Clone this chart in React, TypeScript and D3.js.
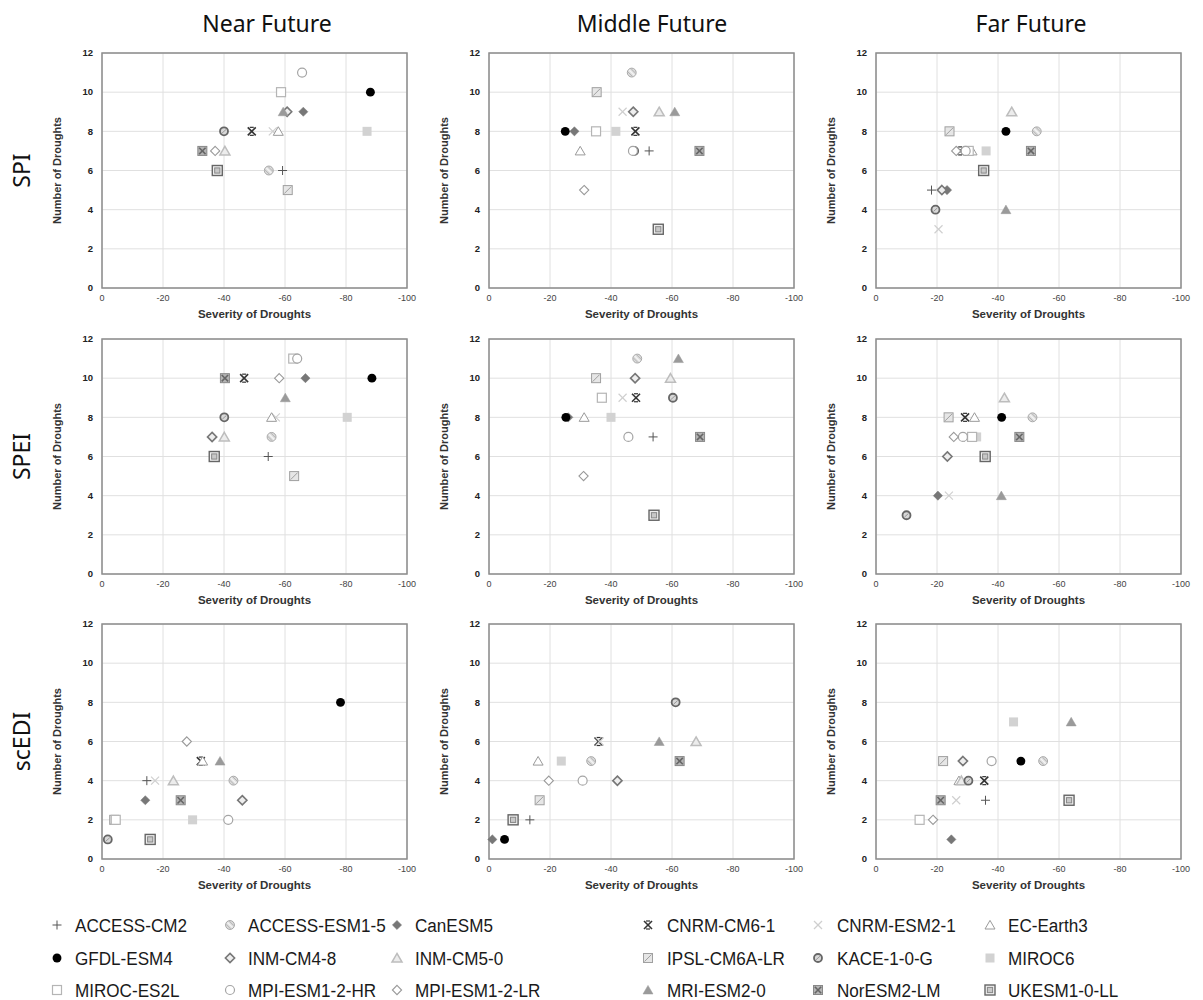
import React from 'react';
import * as d3 from 'd3';

// models in legend order (row-major, 6 per row)
const models = [
  'ACCESS-CM2', 'ACCESS-ESM1-5', 'CanESM5', 'CNRM-CM6-1', 'CNRM-ESM2-1', 'EC-Earth3',
  'GFDL-ESM4', 'INM-CM4-8', 'INM-CM5-0', 'IPSL-CM6A-LR', 'KACE-1-0-G', 'MIROC6',
  'MIROC-ES2L', 'MPI-ESM1-2-HR', 'MPI-ESM1-2-LR', 'MRI-ESM2-0', 'NorESM2-LM', 'UKESM1-0-LL',
];
const indexNames = ['SPI', 'SPEI', 'scEDI'];
const periods = ['Near Future', 'Middle Future', 'Far Future'];
const xTicks = [0, -20, -40, -60, -80, -100];
const yTicks = [0, 2, 4, 6, 8, 10, 12];

// [severity, number of droughts] per model, same order as `models`
const spiNear: [number, number][] = [
  [-59.2, 6], [-54.7, 6], [-66, 9], [-49.1, 8], [-56, 8], [-57.8, 8],
  [-88, 10], [-60.7, 9], [-40.3, 7], [-60.9, 5], [-40, 8], [-86.9, 8],
  [-58.7, 10], [-65.6, 11], [-37.1, 7], [-59.4, 9], [-32.9, 7], [-37.8, 6],
];
const spiMiddle: [number, number][] = [
  [-52.5, 7], [-46.8, 11], [-28, 8], [-48, 8], [-43.8, 9], [-29.9, 7],
  [-25, 8], [-47.3, 9], [-55.8, 9], [-35.3, 10], [-47.6, 7], [-41.6, 8],
  [-35.1, 8], [-47.2, 7], [-31.2, 5], [-60.9, 9], [-69, 7], [-55.5, 3],
];
const spiFar: [number, number][] = [
  [-18.2, 5], [-52.7, 8], [-23.3, 5], [-27.6, 7], [-20.5, 3], [-31.5, 7],
  [-42.6, 8], [-21.6, 5], [-44.5, 9], [-24.1, 8], [-19.5, 4], [-36.1, 7],
  [-30.4, 7], [-29.4, 7], [-26.3, 7], [-42.6, 4], [-50.8, 7], [-35.3, 6],
];
const speiNear: [number, number][] = [
  [-54.5, 6], [-55.6, 7], [-66.7, 10], [-46.6, 10], [-57, 8], [-55.6, 8],
  [-88.5, 10], [-36.1, 7], [-40.1, 7], [-63, 5], [-40.1, 8], [-80.4, 8],
  [-62.7, 11], [-64, 11], [-58.1, 10], [-60.1, 9], [-40.3, 10], [-36.8, 6],
];
const speiMiddle: [number, number][] = [
  [-53.8, 7], [-48.6, 11], [-26, 8], [-48.2, 9], [-43.8, 9], [-31.2, 8],
  [-25.2, 8], [-47.9, 10], [-59.5, 10], [-35.1, 10], [-60.3, 9], [-40, 8],
  [-37, 9], [-45.7, 7], [-31, 5], [-62.1, 11], [-69.2, 7], [-54.1, 3],
];
const speiFar: [number, number][] = [
  [-29, 7], [-51.3, 8], [-20.3, 4], [-29.2, 8], [-23.9, 4], [-32.3, 8],
  [-41.2, 8], [-23.4, 6], [-42.1, 9], [-23.8, 8], [-10, 3], [-33, 7],
  [-31.5, 7], [-28.5, 7], [-25.5, 7], [-41.1, 4], [-47, 7], [-35.8, 6],
];
const scediNear: [number, number][] = [
  [-14.7, 4], [-43.1, 4], [-14.2, 3], [-32.4, 5], [-17.4, 4], [-33, 5],
  [-78.2, 8], [-46, 3], [-23.4, 4], [-4, 2], [-1.9, 1], [-29.7, 2],
  [-4.5, 2], [-41.4, 2], [-27.8, 6], [-38.7, 5], [-25.8, 3], [-15.8, 1],
];
const scediMiddle: [number, number][] = [
  [-13.4, 2], [-33.5, 5], [-1.1, 1], [-35.9, 6], [-36.3, 6], [-16.1, 5],
  [-5.1, 1], [-42.1, 4], [-67.9, 6], [-16.6, 3], [-61.2, 8], [-23.7, 5],
  [-7.9, 2], [-30.7, 4], [-19.6, 4], [-55.8, 6], [-62.5, 5], [-7.9, 2],
];
const scediFar: [number, number][] = [
  [-35.9, 3], [-54.8, 5], [-24.7, 1], [-35.5, 4], [-26.3, 3], [-27.2, 4],
  [-47.5, 5], [-28.5, 5], [-28, 4], [-22, 5], [-30.3, 4], [-45.1, 7],
  [-14.3, 2], [-37.9, 5], [-18.7, 2], [-64, 7], [-21.2, 3], [-63.3, 3],
];

const panels = [
  [spiNear, spiMiddle, spiFar],
  [speiNear, speiMiddle, speiFar],
  [scediNear, scediMiddle, scediFar],
];

// layout
const colX = [102, 489, 876];
const rowY = [53, 339, 624];
const PW = 305;
const PH = 235;
const titleX = [267, 652, 1031];

const xScale = d3.scaleLinear().domain([0, -100]).range([0, PW]);
const yScale = d3.scaleLinear().domain([0, 12]).range([PH, 0]);

const triPath = 'M0,-4.6L5,4L-5,4Z';
const diaPath = 'M0,-4.6L4.6,0L0,4.6L-4.6,0Z';
const circlePath = d3.symbol().type(d3.symbolCircle).size(62)() as string;

const Marker: React.FC<{ m: number; x: number; y: number }> = ({ m, x, y }) => {
  const t = `translate(${x},${y})`;
  switch (m) {
    case 0: // ACCESS-CM2
      return (
        <g transform={t} stroke="#555" strokeWidth={1}>
          <line x1={-4.5} x2={4.5} y1={0} y2={0} />
          <line x1={0} x2={0} y1={-4.5} y2={4.5} />
        </g>
      );
    case 1: // ACCESS-ESM1-5
      return (
        <g transform={t}>
          <path d={circlePath} fill="#dcdcdc" stroke="#a8a8a8" strokeWidth={1} />
          <line x1={-2.6} y1={-2.6} x2={2.6} y2={2.6} stroke="#f4f4f4" strokeWidth={1.4} />
          <line x1={-0.6} y1={-3.8} x2={3.8} y2={0.6} stroke="#aaa" strokeWidth={0.8} />
          <line x1={-3.8} y1={-0.6} x2={0.6} y2={3.8} stroke="#aaa" strokeWidth={0.8} />
        </g>
      );
    case 2: // CanESM5
      return <path transform={t} d={diaPath} fill="#777" stroke="#777" strokeWidth={0.5} />;
    case 3: // CNRM-CM6-1
      return (
        <g transform={t} stroke="#333" strokeWidth={1.6}>
          <line x1={-4} y1={-4} x2={4} y2={4} />
          <line x1={4} y1={-4} x2={-4} y2={4} />
          <line x1={-2} y1={-4} x2={2} y2={-4} strokeWidth={1.2} />
          <line x1={-2} y1={4} x2={2} y2={4} strokeWidth={1.2} />
        </g>
      );
    case 4: // CNRM-ESM2-1
      return (
        <g transform={t} stroke="#cfcfcf" strokeWidth={1.2}>
          <line x1={-4} y1={-4} x2={4} y2={4} />
          <line x1={4} y1={-4} x2={-4} y2={4} />
        </g>
      );
    case 5: // EC-Earth3
      return <path transform={t} d={triPath} fill="#fff" stroke="#9a9a9a" strokeWidth={1} />;
    case 6: // GFDL-ESM4
      return <path transform={t} d={circlePath} fill="#000" />;
    case 7: // INM-CM4-8
      return <path transform={t} d={diaPath} fill="#eee" stroke="#777" strokeWidth={1.6} />;
    case 8: // INM-CM5-0
      return <path transform={t} d={triPath} fill="#ececec" stroke="#bdbdbd" strokeWidth={1.5} />;
    case 9: // IPSL-CM6A-LR
      return (
        <g transform={t}>
          <rect x={-4.5} y={-4.5} width={9} height={9} fill="#e6e6e6" stroke="#a0a0a0" strokeWidth={1} />
          <line x1={-3.5} y1={3.5} x2={3.5} y2={-3.5} stroke="#a0a0a0" strokeWidth={1} />
        </g>
      );
    case 10: // KACE-1-0-G
      return (
        <g transform={t}>
          <circle r={4} fill="#d8d8d8" stroke="#666" strokeWidth={1.8} />
          <line x1={-2} y1={1.8} x2={2} y2={-1.8} stroke="#999" strokeWidth={1} />
        </g>
      );
    case 11: // MIROC6
      return <rect transform={t} x={-4.5} y={-4.5} width={9} height={9} fill="#d2d2d2" />;
    case 12: // MIROC-ES2L
      return <rect transform={t} x={-4.5} y={-4.5} width={9} height={9} fill="#fff" stroke="#b5b5b5" strokeWidth={1.2} />;
    case 13: // MPI-ESM1-2-HR
      return <circle transform={t} r={4.5} fill="#fff" stroke="#a5a5a5" strokeWidth={1.2} />;
    case 14: // MPI-ESM1-2-LR
      return <path transform={t} d={diaPath} fill="#fff" stroke="#999" strokeWidth={1.1} />;
    case 15: // MRI-ESM2-0
      return <path transform={t} d={triPath} fill="#9a9a9a" stroke="#9a9a9a" strokeWidth={0.5} />;
    case 16: // NorESM2-LM
      return (
        <g transform={t}>
          <rect x={-4.5} y={-4.5} width={9} height={9} fill="#b4b4b4" stroke="#888" strokeWidth={1} />
          <line x1={-3.2} y1={-3.2} x2={3.2} y2={3.2} stroke="#666" strokeWidth={1.6} />
          <line x1={3.2} y1={-3.2} x2={-3.2} y2={3.2} stroke="#666" strokeWidth={1.6} />
        </g>
      );
    default: // UKESM1-0-LL
      return (
        <g transform={t}>
          <rect x={-5} y={-5} width={10} height={10} fill="#eee" stroke="#666" strokeWidth={1.4} />
          <rect x={-2.6} y={-2.6} width={5.2} height={5.2} fill="#c8c8c8" stroke="#888" strokeWidth={1} />
        </g>
      );
  }
};

const Panel: React.FC<{ data: [number, number][]; left: number; top: number }> = ({ data, left, top }) => (
  <g transform={`translate(${left},${top})`}>
    {xTicks.map(v => (
      <line key={'gx' + v} x1={xScale(v)} x2={xScale(v)} y1={0} y2={PH} stroke="#e0e0e0" strokeWidth={1} />
    ))}
    {yTicks.map(v => (
      <line key={'gy' + v} x1={0} x2={PW} y1={yScale(v)} y2={yScale(v)} stroke="#e0e0e0" strokeWidth={1} />
    ))}
    <rect x={0} y={0} width={PW} height={PH} fill="none" stroke="#8c8c8c" strokeWidth={1.5} />
    {xTicks.map(v => (
      <text key={'tx' + v} x={xScale(v)} y={PH + 13} textAnchor="middle" fontSize={9} fill="#444"
        fontFamily="Liberation Sans, Arial, sans-serif">{v === 0 ? '0' : '-' + Math.abs(v)}</text>
    ))}
    {yTicks.map(v => (
      <text key={'ty' + v} x={-9} y={yScale(v)} dy="0.35em" textAnchor="end" fontSize={9.5} fill="#222"
        fontWeight="bold" fontFamily="Liberation Sans, Arial, sans-serif">{v}</text>
    ))}
    <text x={PW / 2} y={PH + 30} textAnchor="middle" fontSize={11.5} fontWeight="bold" fill="#333"
      fontFamily="Liberation Sans, Arial, sans-serif">Severity of Droughts</text>
    <text transform={`translate(${-41},${PH / 2}) rotate(-90)`} textAnchor="middle" fontSize={11} fontWeight="bold"
      fill="#333" fontFamily="Liberation Sans, Arial, sans-serif">Number of Droughts</text>
    {data.map((d, i) => (
      <Marker key={i} m={i} x={xScale(d[0])} y={yScale(d[1])} />
    ))}
  </g>
);

const legendMarkerX = [57, 230, 397, 648, 818, 990];
const legendTextX = [75, 248, 415, 667, 837, 1008];
const legendRowY = [925, 958, 990];

const App: React.FC = () => (
  <svg width={1203} height={1000} style={{ position: 'absolute', left: 0, top: 0, background: '#fff' }}>
    <rect width={1203} height={1000} fill="#fff" />
    {periods.map((p, c) => (
      <text key={p} x={titleX[c]} y={32} textAnchor="middle" fontSize={23} fill="#111"
        fontFamily="Noto Sans, Open Sans, sans-serif">{p}</text>
    ))}
    {indexNames.map((n, r) => (
      <text key={n} transform={`translate(${30},${rowY[r] + PH / 2}) rotate(-90)`} textAnchor="middle"
        fontSize={23} fill="#111" fontFamily="Noto Sans, Open Sans, sans-serif">{n}</text>
    ))}
    {panels.map((row, r) => row.map((data, c) => (
      <Panel key={r + '-' + c} data={data} left={colX[c]} top={rowY[r]} />
    )))}
    {models.map((name, i) => {
      const col = i % 6;
      const row = Math.floor(i / 6);
      const ly = legendRowY[row];
      return (
        <g key={name}>
          <Marker m={i} x={legendMarkerX[col]} y={ly} />
          <text transform={`translate(${legendTextX[col]},${ly}) scale(0.9,1)`} dy="0.36em" fontSize={19}
            fill="#1a1a1a" fontFamily="Liberation Sans, Arial, sans-serif">{name}</text>
        </g>
      );
    })}
  </svg>
);

export default App;
